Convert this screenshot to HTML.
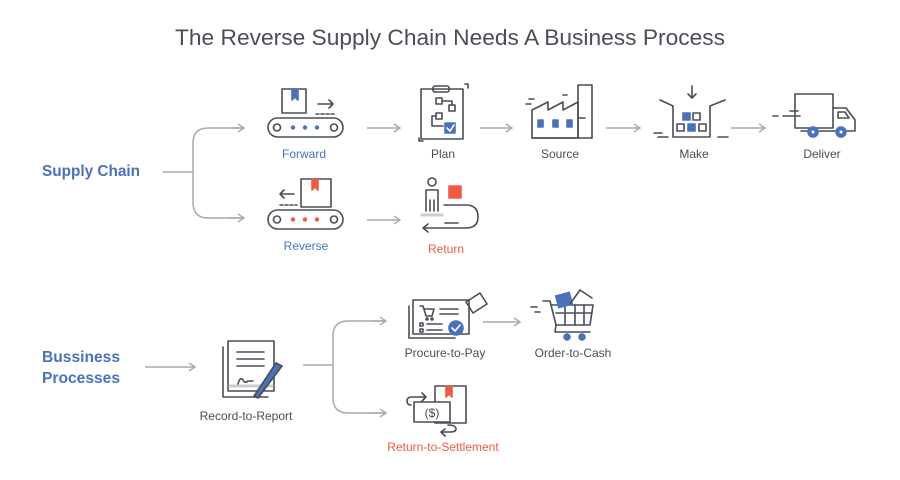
<!DOCTYPE html>
<html><head><meta charset="utf-8"><style>
html,body{margin:0;padding:0;background:#fff}
svg{display:block}
text{font-family:"Liberation Sans",Arial,sans-serif}
</style></head><body>
<svg width="900" height="480" viewBox="0 0 900 480" xmlns="http://www.w3.org/2000/svg">
<defs>
<marker id="ah" markerWidth="10" markerHeight="10" refX="8" refY="5" orient="auto" markerUnits="userSpaceOnUse">
<path d="M2,1 L8,5 L2,9" fill="none" stroke="#a9aaad" stroke-width="1.4"/>
</marker>
</defs>
<rect width="900" height="480" fill="#fff"/>
<text x="450" y="45" text-anchor="middle" font-size="22" fill="#4a4d57" textLength="550" lengthAdjust="spacingAndGlyphs">The Reverse Supply Chain Needs A Business Process</text>

<!-- Supply chain label -->
<text x="42" y="176" font-size="16" fill="#4a72b8" font-weight="bold" textLength="98" lengthAdjust="spacingAndGlyphs" style="font-weight:600">Supply Chain</text>
<g fill="none" stroke="#a9aaad" stroke-width="1.5">
<path d="M163,172 H193"/>
<path d="M243,128 H208 Q193,128 193,143 V202 Q193,218 208,218 H243" />
<path d="M230,128 H244" marker-end="url(#ah)"/>
<path d="M230,218 H244" marker-end="url(#ah)"/>
<path d="M367,128 H400" marker-end="url(#ah)"/>
<path d="M480,128 H512" marker-end="url(#ah)"/>
<path d="M606,128 H640" marker-end="url(#ah)"/>
<path d="M731,128 H765" marker-end="url(#ah)"/>
<path d="M367,220 H400" marker-end="url(#ah)"/>
<path d="M145,367 H195" marker-end="url(#ah)"/>
<path d="M303,365 H333"/>
<path d="M385,321 H348 Q333,321 333,336 V398 Q333,413 348,413 H385"/>
<path d="M370,321 H386" marker-end="url(#ah)"/>
<path d="M370,413 H386" marker-end="url(#ah)"/>
<path d="M483,322 H520" marker-end="url(#ah)"/>
</g>

<g fill="none" stroke="#4a4d57" stroke-width="1.6" stroke-linecap="round" stroke-linejoin="round">
<!-- Forward -->
<rect x="282" y="89" width="24" height="24" fill="#fff"/>
<path d="M292,89 V100 L295,97 L298,100 V89" fill="#4a72b8" stroke="#4a72b8"/>
<path d="M318,104 H333 M329,100 L333,104 L329,108"/>
<path d="M316,114 H334" stroke-dasharray="3,2"/>
<rect x="268" y="118" width="75" height="19" rx="9.5"/>
<circle cx="277" cy="127.5" r="3.5"/>
<circle cx="334" cy="127.5" r="3.5"/>
<g fill="#4a72b8" stroke="none"><circle cx="293" cy="127.5" r="2.2"/><circle cx="305" cy="127.5" r="2.2"/><circle cx="317" cy="127.5" r="2.2"/></g>
<!-- Reverse -->
<rect x="301" y="179" width="30" height="28" fill="#fff"/>
<path d="M312,179 V190 L315,187 L318,190 V179" fill="#f05a45" stroke="#f05a45"/>
<path d="M294,194 H280 M284,190 L280,194 L284,198"/>
<path d="M280,205 H297" stroke-dasharray="3,2"/>
<rect x="268" y="210" width="75" height="19" rx="9.5"/>
<circle cx="277" cy="219.5" r="3.5"/>
<circle cx="334" cy="219.5" r="3.5"/>
<g fill="#f05a45" stroke="none"><circle cx="293" cy="219.5" r="2.2"/><circle cx="305" cy="219.5" r="2.2"/><circle cx="317" cy="219.5" r="2.2"/></g>
<!-- Plan -->
<rect x="421" y="89" width="42" height="50" fill="#fff"/>
<rect x="433" y="86" width="16" height="6" rx="2"/>
<path d="M465,84 H468 V88 M419,138 V141 H423"/>
<rect x="436" y="98" width="6" height="6"/>
<rect x="449" y="105" width="6" height="6"/>
<rect x="436" y="113" width="6" height="6"/>
<path d="M442,101 H452 V105 M436,116 H432 V126 H443"/>
<rect x="445" y="123" width="10" height="10" fill="#4a72b8" stroke="#4a72b8"/>
<path d="M447,128 L450,131 L454,125" stroke="#fff"/>
<!-- Source -->
<path d="M532,138 V110 L548,102 V110 L563,102 V110 L578,102 V138 Z" fill="#fff"/>
<path d="M578,138 V85 H592 V138 M578,118 H585"/>
<path d="M526,104 H531 M529,99 H534 M563,95 H567"/>
<rect x="538" y="120" width="5" height="7" fill="#4a72b8" stroke="#4a72b8"/>
<rect x="553" y="120" width="5" height="7" fill="#4a72b8" stroke="#4a72b8"/>
<rect x="567" y="120" width="5" height="7" fill="#4a72b8" stroke="#4a72b8"/>
<path d="M532,138 H592"/>
<!-- Make -->
<path d="M660,100 L673,106 V137 H710 V106 L725,100"/>
<path d="M692,86 V98 M688,94 L692,98 L696,94"/>
<rect x="683" y="113" width="7" height="7" fill="#4a72b8" stroke="#4a72b8"/>
<rect x="693" y="113" width="7" height="7"/>
<rect x="677" y="124" width="7" height="7"/>
<rect x="688" y="124" width="7" height="7" fill="#4a72b8" stroke="#4a72b8"/>
<rect x="699" y="124" width="7" height="7"/>
<path d="M654,133 H662 M658,137 H668 M718,137 H728"/>
<!-- Deliver -->
<rect x="795" y="94" width="38" height="34" fill="#fff"/>
<path d="M833,108 H846 L855,120 V131 H833"/>
<path d="M838,112 H845 L849,118 H838 Z"/>
<path d="M773,116 H778 M783,116 H800 M790,111 H798"/>
<path d="M801,131 H833"/>
<circle cx="813" cy="132" r="5" fill="#4a72b8" stroke="#4a72b8"/><circle cx="813" cy="132" r="1.5" fill="#fff" stroke="none"/>
<circle cx="841" cy="132" r="5" fill="#4a72b8" stroke="#4a72b8"/><circle cx="841" cy="132" r="1.5" fill="#fff" stroke="none"/>
<!-- Return -->
<circle cx="432" cy="182" r="4"/>
<path d="M426,211 V190 H438 V211 M430,211 V200 M434,211 V200"/>
<path d="M422,215 H442" stroke="#ccc" stroke-width="3"/>
<rect x="449" y="186" width="12" height="12" fill="#f05a45" stroke="#f05a45"/>
<path d="M444,205 H466 Q478,205 478,217 Q478,228 466,228 H423 M428,224 L423,228 L428,232 M445,223 H458"/>
<!-- Record -->
<rect x="228" y="341" width="46" height="50" fill="#fff"/>
<path d="M223,347 V397 H268"/>
<path d="M237,352 H264 M237,359 H264 M237,366 H264"/>
<path d="M238,384 Q240,376 243,380 Q245,384 248,381 H253"/>
<path d="M230,386 H272" stroke="#ccc" stroke-width="3"/>
<path d="M276,363 L282,366 L258,398 L254,396 Z" fill="#4a72b8" stroke="#4a4d57"/>
<!-- Procure -->
<rect x="413" y="300" width="56" height="34" fill="#fff"/>
<path d="M409,306 V338 H455"/>
<path d="M420,306 H423 L426,316 H432 L434,309 H424"/>
<circle cx="427" cy="319" r="1"/><circle cx="432" cy="319" r="1"/>
<path d="M440,309 H458 M440,314 H458"/>
<rect x="420" y="323" width="3" height="3"/><rect x="420" y="329" width="3" height="3"/>
<path d="M427,324 H442 M427,330 H442"/>
<circle cx="456" cy="328" r="7" fill="#4a72b8" stroke="#4a72b8"/>
<path d="M452,328 L455,331 L460,325" stroke="#fff"/>
<path d="M466,302 L480,293 L487,304 L473,313 Z"/>
<!-- Order -->
<path d="M531,307 H537 M535,312 H540 M543,301 L550,301 L556,325 H590 L593,305 H552"/>
<path d="M556,313 H592 M565,305 V325 M575,305 V325 M584,305 V325"/>
<path d="M556,325 L555,332 H590"/>
<rect x="557" y="294" width="14" height="12" transform="rotate(-15 564 300)" fill="#4a72b8" stroke="#4a72b8"/>
<path d="M570,304 L580,290 L592,298"/>
<circle cx="567" cy="337" r="3" fill="#4a72b8" stroke="#4a72b8"/><circle cx="582" cy="337" r="3" fill="#4a72b8" stroke="#4a72b8"/>
<!-- Return-to-settlement -->
<rect x="435" y="386" width="31" height="37" fill="#fff"/>
<path d="M446,386 V397 L449,394 L452,397 V386" fill="#f05a45" stroke="#f05a45"/>
<rect x="414" y="402" width="36" height="20" fill="#fff"/>
<text x="432" y="417" text-anchor="middle" font-size="12" fill="#4a4d57" stroke="none">($)</text>
<path d="M426,397 H412 Q407,397 407,401 Q407,405 411,405 M422,393 L426,397 L422,401"/>
<path d="M448,425 Q456,425 456,429 Q456,432 450,432 H441 M445,429 L441,432 L445,436"/>
</g>

<!-- labels -->
<g font-size="12" text-anchor="middle" fill="#4a4d57">
<text x="304" y="158" fill="#4a72b8">Forward</text>
<text x="443" y="158">Plan</text>
<text x="560" y="158">Source</text>
<text x="694" y="158">Make</text>
<text x="822" y="158">Deliver</text>
<text x="306" y="250" fill="#4a72b8">Reverse</text>
<text x="446" y="253" fill="#f05a45">Return</text>
<text x="246" y="420">Record-to-Report</text>
<text x="445" y="357">Procure-to-Pay</text>
<text x="573" y="357">Order-to-Cash</text>
<text x="443" y="451" fill="#f05a45">Return-to-Settlement</text>
</g>
<g font-size="16" fill="#4a72b8" style="font-weight:600">
<text x="42" y="362" textLength="78" lengthAdjust="spacingAndGlyphs">Bussiness</text>
<text x="42" y="383" textLength="78" lengthAdjust="spacingAndGlyphs">Processes</text>
</g>
</svg>
</body></html>
